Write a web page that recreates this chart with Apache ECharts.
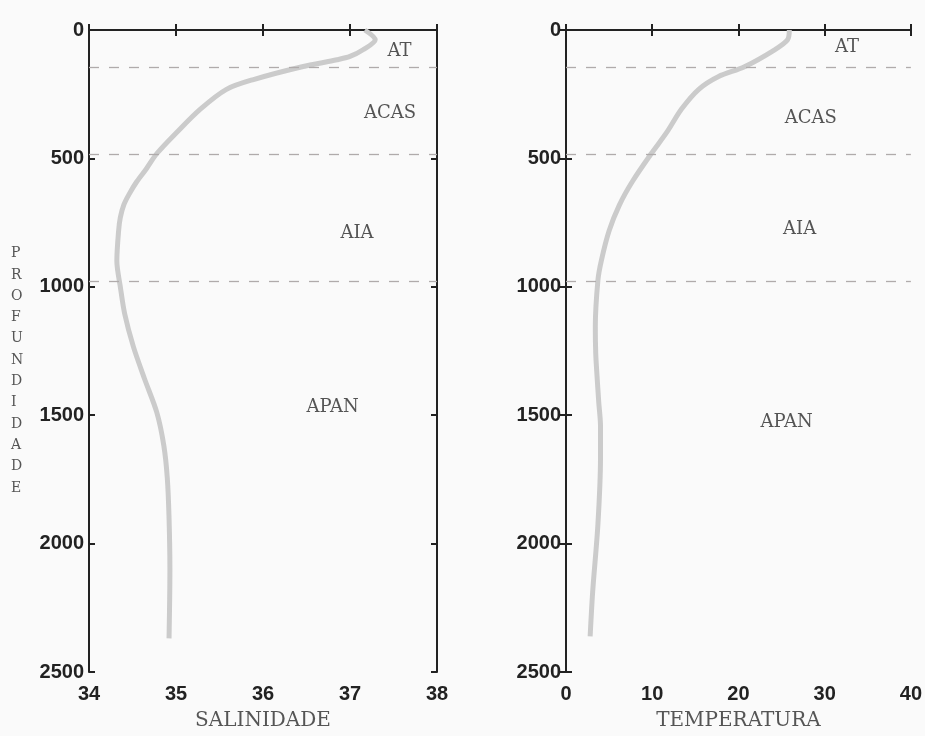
<!DOCTYPE html>
<html>
<head>
<meta charset="utf-8">
<script src="https://cdn.jsdelivr.net/npm/echarts@6/dist/echarts.min.js"></script>
<style>
html,body{margin:0;padding:0;background:#fafafa;}
#chart{width:925px;height:736px;}
</style>
</head>
<body>
<div id="chart"></div>
<script>
// ---- Data ----
const salDepth = [0, 38, 77, 103, 116, 143, 193, 231, 308, 398, 481, 540, 590, 640, 681, 730, 783, 900, 1000, 1105, 1233, 1360, 1490, 1618, 1745, 1900, 2100, 2369];
const salValue = [37.17, 37.29, 37.15, 37.0, 36.85, 36.45, 35.89, 35.58, 35.28, 35.01, 34.78, 34.66, 34.55, 34.46, 34.40, 34.36, 34.34, 34.32, 34.36, 34.41, 34.51, 34.64, 34.78, 34.86, 34.90, 34.92, 34.93, 34.92];
const tempDepth = [0, 38, 77, 143, 181, 231, 308, 398, 481, 590, 681, 782, 898, 975, 1156, 1260, 1348, 1450, 1541, 1668, 1926, 2184, 2361];
const tempValue = [25.9, 25.7, 24.2, 20.7, 17.7, 15.4, 13.4, 11.7, 9.9, 7.7, 6.2, 5.0, 4.1, 3.7, 3.4, 3.45, 3.6, 3.8, 4.0, 4.0, 3.7, 3.1, 2.8];
const boundaryDepths = [145, 485, 980];
const massNames = ['AT', 'ACAS', 'AIA', 'APAN'];
const salLabelX = [37.57, 37.46, 37.08, 36.80];
const salLabelDepth = [85, 323, 790, 1468];
const tempLabelX = [32.6, 28.4, 27.1, 25.6];
const tempLabelDepth = [69, 343, 778, 1529];
const depthTicks = [0, 500, 1000, 1500, 2000, 2500];

// ---- Styling helpers ----
const axisColor = '#222';
const tickFont = { fontFamily: 'Liberation Sans', fontWeight: 'bold', fontSize: 20, color: '#222' };
const serifName = { fontFamily: 'DejaVu Serif', fontSize: 20, color: '#555' };

function xAxisPair(gridIndex, min, max, interval, name) {
  return [
    {
      gridIndex, type: 'value', min, max, interval, position: 'bottom',
      name, nameLocation: 'middle', nameGap: 39, nameTextStyle: serifName,
      axisLine: { show: true, lineStyle: { color: axisColor, width: 2 } },
      axisTick: { show: true, inside: true, length: 6, lineStyle: { color: axisColor, width: 2 } },
      axisLabel: Object.assign({ margin: 12 }, tickFont),
      splitLine: { show: false }
    },
    {
      gridIndex, type: 'value', min, max, interval, position: 'top',
      axisLine: { show: true, lineStyle: { color: axisColor, width: 2 } },
      axisTick: { show: true, inside: true, length: 6, lineStyle: { color: axisColor, width: 2 } },
      axisLabel: { show: false },
      splitLine: { show: false }
    }
  ];
}
function yAxisPair(gridIndex) {
  return [
    {
      gridIndex, type: 'value', min: 0, max: 2500, interval: 500, inverse: true, position: 'left',
      axisLine: { show: true, lineStyle: { color: axisColor, width: 2 } },
      axisTick: { show: true, inside: true, length: 6, lineStyle: { color: axisColor, width: 2 } },
      axisLabel: Object.assign({ margin: 5, formatter: v => depthTicks.includes(v) ? String(v) : '' }, tickFont),
      splitLine: { show: false }
    },
    {
      gridIndex, type: 'value', min: 0, max: 2500, interval: 500, inverse: true, position: 'right',
      axisLine: { show: true, lineStyle: { color: axisColor, width: 2 } },
      axisTick: { show: true, inside: true, length: 6, lineStyle: { color: axisColor, width: 2 } },
      axisLabel: { show: false },
      splitLine: { show: false }
    }
  ];
}

function markLines() {
  return {
    silent: true, symbol: 'none', animation: false,
    label: { show: false },
    lineStyle: { color: '#b0abab', width: 1.3, type: [10, 10] },
    data: boundaryDepths.map(d => ({ yAxis: d }))
  };
}

function labelSeries(xi, yi, xs, ds) {
  return {
    type: 'scatter', xAxisIndex: xi, yAxisIndex: yi, symbolSize: 0, silent: true,
    data: massNames.map((n, i) => ({ value: [xs[i], ds[i]], name: n })),
    label: {
      show: true, position: 'inside', formatter: p => p.name,
      fontFamily: 'DejaVu Serif', fontSize: 18, color: '#2a2a2a'
    }
  };
}

const chart = echarts.init(document.getElementById('chart'), null, { renderer: 'canvas' });
const option = {
  backgroundColor: '#fafafa',
  animation: false,
  grid: [
    { left: 89, right: 488, top: 30, bottom: 57 },
    { left: 566, right: 10, top: 30, bottom: 57 }
  ],
  xAxis: [].concat(xAxisPair(0, 34, 38, 1, 'SALINIDADE'), xAxisPair(1, 0, 40, 10, 'TEMPERATURA')),
  yAxis: [].concat(yAxisPair(0), yAxisPair(1)),
  graphic: [{
    type: 'text', left: 11, top: 243,
    style: {
      text: 'PROFUNDIDADE'.split('').join('\n'),
      fontFamily: 'DejaVu Serif', fontSize: 14, lineHeight: 21.3,
      fill: '#555', align: 'center'
    }
  }],
  series: [
    {
      type: 'line', xAxisIndex: 0, yAxisIndex: 0, smooth: 0.3, symbol: 'none',
      lineStyle: { color: '#cbcbcb', width: 5 },
      data: salDepth.map((d, i) => [salValue[i], d]),
      markLine: markLines()
    },
    {
      type: 'line', xAxisIndex: 2, yAxisIndex: 2, smooth: 0.3, symbol: 'none',
      lineStyle: { color: '#cbcbcb', width: 5 },
      data: tempDepth.map((d, i) => [tempValue[i], d]),
      markLine: markLines()
    },
    labelSeries(0, 0, salLabelX, salLabelDepth),
    labelSeries(2, 2, tempLabelX, tempLabelDepth)
  ]
};
chart.setOption(option);
</script>
</body>
</html>
